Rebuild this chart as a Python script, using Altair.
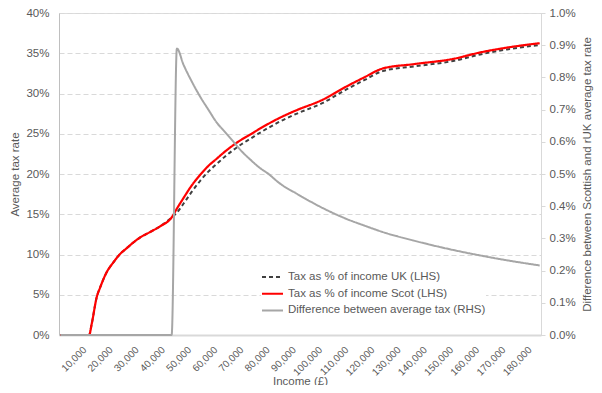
import altair as alt
import pandas as pd

# ---- data ----
income = [0, 11000, 12000, 13900, 15200, 17700, 20200, 22800, 25400, 27900,
          30400, 34300, 38100, 42500, 44500, 47000, 50000, 53400, 56500, 59700,
          62900, 66100, 69300, 72500, 76000, 79500, 83900, 90000, 100000, 109400,
          116000, 123000, 135000, 150000, 160300, 170500, 183000]
scot_pct = [0, 0, 1.4, 4.7, 5.9, 7.8, 9.0, 10.05, 10.8, 11.5,
            12.1, 12.8, 13.5, 14.6, 15.7, 17.0, 18.5, 19.9, 21.0, 21.9,
            22.8, 23.6, 24.3, 24.9, 25.6, 26.25, 27.0, 27.9, 29.2, 30.9,
            32.0, 33.1, 33.65, 34.3, 35.1, 35.7, 36.25]
uk_pct = [0, 0, 1.4, 4.7, 5.9, 7.8, 9.0, 10.05, 10.8, 11.5,
          12.1, 12.8, 13.5, 14.6, 15.2, 16.3, 17.71, 19.16, 20.3, 21.24,
          22.17, 23.0, 23.73, 24.36, 25.08, 25.75, 26.53, 27.46, 28.8, 30.54,
          31.66, 32.78, 33.36, 34.04, 34.85, 35.47, 36.03]
diff_income = [0, 42500, 44500, 47000, 50000, 53400, 56500, 59700, 62900, 66100,
               69300, 72500, 76000, 79500, 83900, 90000, 100000, 109400, 116000, 123000,
               135000, 150000, 160300, 170500, 183000]
diff_pct = [0, 0, 0.89, 0.84, 0.79, 0.74, 0.70, 0.66, 0.63, 0.60,
            0.57, 0.545, 0.52, 0.50, 0.47, 0.44, 0.395, 0.36, 0.34, 0.32,
            0.293, 0.264, 0.247, 0.232, 0.216]

uk_name = "Tax as % of income UK (LHS)"
scot_name = "Tax as % of income Scot (LHS)"
diff_name = "Difference between average tax (RHS)"
series_order = [uk_name, scot_name, diff_name]
x_ticks = list(range(10000, 190000, 10000))
left_ticks = [0, 0.05, 0.10, 0.15, 0.20, 0.25, 0.30, 0.35, 0.40]
right_ticks = [i / 1000 for i in range(0, 11)]

uk_df = pd.DataFrame({"income": income, "rate": [v / 100 for v in uk_pct], "series": uk_name})
scot_df = pd.DataFrame({"income": income, "rate": [v / 100 for v in scot_pct], "series": scot_name})
diff_df = pd.DataFrame({"income": diff_income, "rate": [v / 100 for v in diff_pct], "series": diff_name})

FONT = "Liberation Sans"
TXT = "#595959"
PLOT_H = 322

color_scale = alt.Scale(domain=series_order, range=["#404040", "#FF0000", "#A6A6A6"])
dash_scale = alt.Scale(domain=series_order, range=[[4, 3], [1, 0], [1, 0]])
legend = alt.Legend(
    title=None, orient="none", legendX=202, legendY=256,
    symbolType="stroke", symbolSize=441, symbolStrokeWidth=2,
    labelFontSize=11.5, labelColor=TXT, labelFont=FONT, labelOffset=4, labelLimit=400,
    fillColor="white", padding=0, clipHeight=16, rowPadding=0.7,
)

x_enc = alt.X(
    "income:Q",
    scale=alt.Scale(domain=[-500, 183500], nice=False, zero=False),
    axis=alt.Axis(
        values=x_ticks, format=",.0f", labelAngle=-45, labelAlign="right", labelBaseline="middle",
        labelFontSize=10, labelColor=TXT, labelPadding=13, labelOffset=-2, labelOverlap=False,
        ticks=False, grid=False, domainColor="#D9D9D9", domainWidth=2,
        title="Income (£)", titleFontSize=11.5, titleFontWeight="normal", titleColor=TXT,
        titleY=49, titleBaseline="alphabetic",
    ),
)
color_enc = alt.Color("series:N", scale=color_scale, legend=legend)
dash_enc = alt.StrokeDash("series:N", scale=dash_scale, legend=legend)

y_left = alt.Y(
    "rate:Q",
    scale=alt.Scale(domain=[0, 0.40], nice=False),
    axis=alt.Axis(
        values=left_ticks, format=".0%", ticks=False, labelPadding=10,
        labelFontSize=11.5, labelColor=TXT,
        grid=True, gridColor="#D9D9D9", gridDash=[5, 3], gridWidth=1,
        domainColor="#BFBFBF", domainWidth=1,
        title="Average tax rate", titleFontSize=11.5, titleFontWeight="normal", titleColor=TXT,
        titlePadding=5,
    ),
)
y_right = alt.Y(
    "rate:Q",
    scale=alt.Scale(domain=[0, 0.01], nice=False),
    axis=alt.Axis(
        orient="right", values=right_ticks, format=".1%",
        ticks=True, tickSize=4, tickColor="#D9D9D9", labelPadding=4,
        labelFontSize=11.5, labelColor=TXT, grid=False,
        domainColor="#D9D9D9", domainWidth=1,
        title="Difference between Scottish and rUK average tax rate",
        titleFontSize=11.5, titleFontWeight="normal", titleColor=TXT,
        titleAngle=270, titleX=46, titleY=PLOT_H / 2, titleAlign="center", titleBaseline="middle",
    ),
)

uk_line = alt.Chart(uk_df).mark_line(strokeWidth=2, interpolate="monotone").encode(
    x=x_enc, y=y_left, color=color_enc, strokeDash=dash_enc)
scot_line = alt.Chart(scot_df).mark_line(strokeWidth=2.2, interpolate="monotone").encode(
    x=x_enc, y=y_left, color=color_enc, strokeDash=dash_enc)
diff_line = alt.Chart(diff_df).mark_line(strokeWidth=2, interpolate="monotone").encode(
    x=x_enc, y=y_right, color=color_enc, strokeDash=dash_enc)

left = alt.layer(uk_line, scot_line)
chart = alt.layer(left, diff_line).resolve_scale(y="independent").properties(
    width=482, height=PLOT_H,
    padding={"left": 51, "top": 5, "right": 53, "bottom": 50},
    autosize=alt.AutoSizeParams(type="none"),
).configure_view(stroke=None).configure(font=FONT)

chart.save("out.html", embed_options={"renderer": "svg", "actions": False})
